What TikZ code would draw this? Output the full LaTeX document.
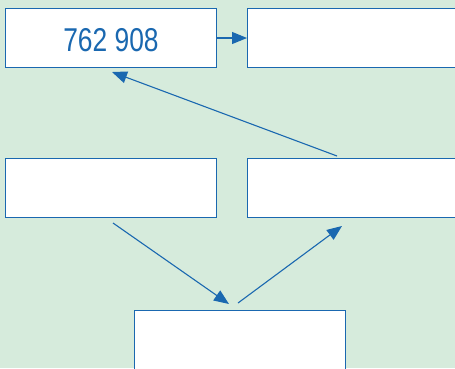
\documentclass[tikz,border=0pt]{standalone}
\usepackage{fontspec}
\newfontfamily\numfont[FakeStretch=0.8]{Liberation Sans}
\usetikzlibrary{arrows.meta}
\definecolor{bg}{HTML}{D6EBDC}
\definecolor{ink}{HTML}{1A68B0}
\tikzset{
  box/.style={draw=ink, line width=1pt, fill=white, minimum width=211pt, minimum height=59pt, inner sep=0pt, anchor=north west},
  conn/.style={draw=ink, line width=1.1pt, -{Triangle[length=15pt,width=12pt]}}
}
\begin{document}
\begin{tikzpicture}[x=1pt,y=1pt]
\fill[bg] (0,0) rectangle (455,-368);
\useasboundingbox (0,0) rectangle (455,-368);
\node[box] (a) at (5,-8) {};
\node[font=\numfont\fontsize{33}{36}\selectfont, text=ink] (t) at (111,-40) {762 908};
\node[box, minimum width=216pt] (b) at (247,-8) {};
\node[box] (c) at (5,-158) {};
\node[box, minimum width=216pt] (d) at (247,-158) {};
\node[box] (e) at (134,-310) {};
\coordinate (d1) at (337,-156);
\coordinate (a1) at (112,-72);
\coordinate (c1) at (113,-223);
\coordinate (e1) at (229,-304);
\coordinate (e2) at (238,-303);
\coordinate (d2) at (342,-226);
\draw[conn] (a.east) -- (b.west);
\draw[conn] (d1) -- (a1);
\draw[conn] (c1) -- (e1);
\draw[conn] (e2) -- (d2);
\end{tikzpicture}
\end{document}
